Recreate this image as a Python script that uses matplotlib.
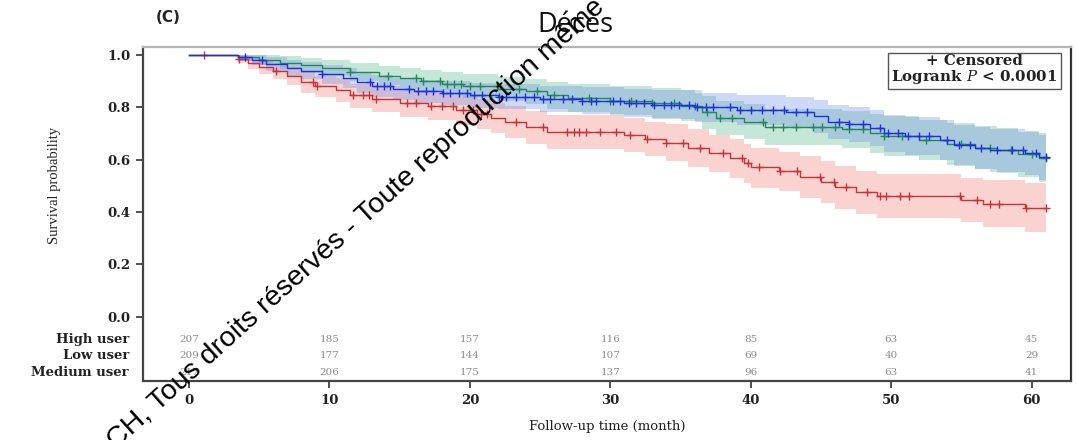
import numpy as np
import matplotlib
matplotlib.use("Agg")
import matplotlib.pyplot as plt

# ---------------- data ----------------
groups = ["High user", "Low user", "Medium user"]
follow_end = 61.0

high_t = [0, 3.5, 4.2, 5.0, 6.0, 7.0, 8.0, 9.0, 10.5, 11.5, 13.0, 15.0, 17.0, 19.0, 20.5, 21.5,
          22.5, 24.0, 25.5, 31.0, 32.5, 34.0, 35.5, 37.0, 38.5, 39.5, 40.0, 42.0, 43.5, 45.0,
          46.0, 47.5, 49.0, 55.0, 56.5, 59.5]
high_s = [1.0, 0.985, 0.97, 0.955, 0.94, 0.92, 0.895, 0.88, 0.865, 0.845, 0.83, 0.815, 0.805,
          0.79, 0.775, 0.76, 0.745, 0.725, 0.705, 0.695, 0.68, 0.665, 0.645, 0.625, 0.605, 0.585,
          0.57, 0.555, 0.535, 0.515, 0.495, 0.475, 0.46, 0.445, 0.43, 0.415]
high_up = [1.0, 1.0, 0.99, 0.98, 0.97, 0.955, 0.935, 0.92, 0.91, 0.89, 0.88, 0.865, 0.855, 0.845,
           0.83, 0.815, 0.805, 0.785, 0.77, 0.76, 0.745, 0.735, 0.715, 0.695, 0.68, 0.66, 0.645,
           0.63, 0.615, 0.595, 0.575, 0.555, 0.545, 0.53, 0.52, 0.51]
high_lo = [1.0, 0.968, 0.947, 0.928, 0.908, 0.885, 0.855, 0.838, 0.82, 0.797, 0.78, 0.763, 0.75,
           0.733, 0.717, 0.7, 0.683, 0.66, 0.64, 0.628, 0.612, 0.595, 0.573, 0.553, 0.53, 0.51,
           0.493, 0.478, 0.455, 0.435, 0.413, 0.393, 0.375, 0.36, 0.343, 0.325]
high_cens = [1.1, 3.6, 6.2, 8.8, 9.1, 11.7, 12.4, 12.8, 13.3, 15.5, 16.2, 17.2, 18.0, 18.8, 19.5,
             20.2, 20.8, 21.2, 23.3, 25.2, 26.9, 27.4, 27.8, 28.3, 29.3, 30.4, 31.4, 32.6, 34.0,
             35.2, 36.4, 38.0, 39.4, 39.8, 40.6, 42.1, 43.3, 44.9, 45.9, 46.8, 48.3, 49.2, 49.6,
             50.6, 51.3, 54.9, 56.1, 57.0, 57.7, 59.6, 61.0]

low_t = [0, 3.5, 5.0, 6.5, 8.0, 9.5, 11.5, 13.5, 15.0, 16.5, 18.0, 19.5, 22.0, 24.0, 25.5, 27.0,
         30.0, 33.0, 35.0, 36.5, 37.5, 39.5, 41.0, 46.5, 48.5, 49.5, 52.0, 54.0, 56.0, 57.5, 59.0,
         60.5]
low_s = [1.0, 0.99, 0.98, 0.97, 0.96, 0.95, 0.935, 0.92, 0.91, 0.90, 0.89, 0.88, 0.87, 0.86,
         0.845, 0.835, 0.825, 0.815, 0.805, 0.78, 0.76, 0.745, 0.725, 0.715, 0.70, 0.69, 0.675,
         0.66, 0.645, 0.635, 0.62, 0.605]
low_up = [1.0, 1.0, 1.0, 0.995, 0.988, 0.98, 0.968, 0.957, 0.949, 0.941, 0.933, 0.925, 0.917,
          0.909, 0.896, 0.888, 0.88, 0.872, 0.864, 0.842, 0.825, 0.812, 0.795, 0.787, 0.775,
          0.766, 0.753, 0.74, 0.727, 0.72, 0.707, 0.695]
low_lo = [1.0, 0.976, 0.96, 0.945, 0.932, 0.92, 0.902, 0.883, 0.871, 0.859, 0.847, 0.835, 0.823,
          0.811, 0.794, 0.782, 0.77, 0.758, 0.746, 0.718, 0.695, 0.678, 0.655, 0.643, 0.625,
          0.614, 0.597, 0.58, 0.563, 0.55, 0.533, 0.515]
low_cens = [11.5, 14.2, 16.2, 16.7, 17.9, 18.4, 18.9, 19.4, 20.0, 20.7, 21.9, 23.5, 24.8, 26.0,
            28.5, 30.0, 31.5, 33.0, 34.5, 36.0, 36.9, 37.8, 38.7, 40.9, 41.6, 42.3, 43.2, 44.4,
            45.1, 46.0, 47.0, 48.0, 49.5, 50.8, 52.5, 55.0, 57.0, 58.5, 60.0, 61.0]

med_t = [0, 3.5, 4.5, 5.5, 7.0, 8.0, 9.5, 11.0, 12.0, 13.0, 14.5, 16.0, 18.0, 20.0, 22.0, 25.0,
         28.0, 31.0, 33.0, 36.0, 39.0, 42.5, 44.5, 45.5, 47.0, 48.5, 49.5, 51.0, 53.5, 54.5, 56.0,
         57.0, 59.5, 60.5]
med_s = [1.0, 0.99, 0.98, 0.965, 0.95, 0.94, 0.925, 0.91, 0.895, 0.88, 0.87, 0.86, 0.855, 0.845,
         0.84, 0.83, 0.825, 0.815, 0.81, 0.80, 0.79, 0.78, 0.765, 0.745, 0.735, 0.72, 0.70, 0.69,
         0.675, 0.655, 0.645, 0.635, 0.625, 0.61]
med_up = [1.0, 1.0, 1.0, 0.99, 0.98, 0.972, 0.96, 0.948, 0.935, 0.922, 0.913, 0.905, 0.9, 0.892,
          0.888, 0.88, 0.876, 0.868, 0.864, 0.856, 0.848, 0.84, 0.827, 0.81, 0.802, 0.79, 0.772,
          0.763, 0.75, 0.733, 0.725, 0.716, 0.71, 0.70]
med_lo = [1.0, 0.976, 0.96, 0.94, 0.92, 0.908, 0.89, 0.872, 0.855, 0.838, 0.827, 0.815, 0.81,
          0.798, 0.792, 0.78, 0.774, 0.762, 0.756, 0.744, 0.732, 0.72, 0.703, 0.68, 0.668, 0.65,
          0.628, 0.617, 0.6, 0.577, 0.565, 0.554, 0.54, 0.52]
med_cens = [4.0, 5.2, 9.5, 12.9, 13.4, 13.9, 14.3, 15.7, 16.3, 16.9, 17.4, 18.1, 18.6, 19.2,
            19.8, 20.3, 20.9, 22.1, 22.6, 23.3, 23.9, 24.6, 25.2, 25.7, 26.6, 27.3, 28.0, 28.6,
            29.0, 30.2, 30.7, 31.3, 31.8, 32.4, 33.1, 33.8, 34.3, 34.9, 35.6, 36.2, 36.8, 37.3,
            38.5, 39.2, 40.0, 40.8, 41.6, 42.4, 43.2, 44.0, 46.3, 47.0, 48.0, 49.2, 49.8, 50.5,
            51.2, 52.0, 52.7, 54.0, 54.8, 55.6, 56.4, 57.5, 58.6, 59.4, 60.3, 61.0]

risk_times = [0, 10, 20, 30, 40, 50, 60]
risk_high = [207, 185, 157, 116, 85, 63, 45]
risk_low = [209, 177, 144, 107, 69, 40, 29]
risk_med = [217, 206, 175, 137, 96, 63, 41]

# ---------------- style ----------------
line_cols = {"High user": "#c8323a", "Low user": "#23885a", "Medium user": "#2030e0"}
band_cols = {"High user": ("#f07a72", 0.33), "Low user": ("#4fb886", 0.33),
             "Medium user": ("#6a8ee6", 0.33)}

plt.rcParams["mathtext.fontset"] = "dejavuserif"
fig = plt.figure(figsize=(10.76, 4.40), dpi=100)
W, H = 1076, 440
ax = fig.add_axes([143 / W, 1 - 381 / H, (1071 - 143) / W, (381 - 47) / H])

series = [
    ("High user", high_t, high_s, high_lo, high_up, high_cens),
    ("Low user", low_t, low_s, low_lo, low_up, low_cens),
    ("Medium user", med_t, med_s, med_lo, med_up, med_cens),
]

for name, t, s, lo, up, cens in series:
    tt = list(t) + [follow_end]
    col, a = band_cols[name]
    ax.fill_between(tt, list(lo) + [lo[-1]], list(up) + [up[-1]], step="post",
                    color=col, alpha=a, linewidth=0)

for name, t, s, lo, up, cens in series:
    tt = list(t) + [follow_end]
    ss = list(s) + [s[-1]]
    ax.step(tt, ss, where="post", color=line_cols[name], lw=1.0)
    idx = np.searchsorted(np.array(t), np.array(cens), side="right") - 1
    ax.plot(cens, np.array(s)[idx], linestyle="none", marker="+", ms=6, mew=1.0,
            color=line_cols[name])

ax.set_xlim(-3.27, 62.8)
ax.set_ylim(-0.246, 1.03)
ax.set_xticks(risk_times)
ax.set_yticks([0.0, 0.2, 0.4, 0.6, 0.8, 1.0])
ax.set_yticklabels(["0.0", "0.2", "0.4", "0.6", "0.8", "1.0"])

for lab in ax.get_xticklabels() + ax.get_yticklabels():
    lab.set_fontfamily("DejaVu Serif")
    lab.set_fontweight("bold")
    lab.set_fontsize(9.5)
    lab.set_color("#222222")
ax.tick_params(axis="both", direction="out", length=5, width=1.2, color="#333333", pad=4)

for side in ["left", "bottom"]:
    ax.spines[side].set_color("#444444")
    ax.spines[side].set_linewidth(1.6)
ax.spines["top"].set_color("#b5b5b5")
ax.spines["top"].set_linewidth(1.6)
ax.spines["right"].set_color("#333333")
ax.spines["right"].set_linewidth(1.6)

ax.set_xlabel("Follow-up time (month)", fontfamily="DejaVu Serif", fontsize=9.5,
              color="#222222", labelpad=10)
ax.set_ylabel("Survival probability", fontfamily="Liberation Serif", fontsize=10.5,
              color="#222222")
ax.yaxis.set_label_coords(-0.088, (0.5 + 0.246) / (1.03 + 0.246))

# risk table
rows = [("High user", risk_high, -0.086), ("Low user", risk_low, -0.147),
        ("Medium user", risk_med, -0.212)]
for name, vals, yv in rows:
    for x, v in zip(risk_times, vals):
        ax.text(x, yv, str(v), ha="center", va="center", fontfamily="DejaVu Serif",
                fontsize=7.5, color="#8a8a8a")
    ax.text(-0.015, yv, name, transform=ax.get_yaxis_transform(), ha="right", va="center",
            fontfamily="DejaVu Serif", fontweight="bold", fontsize=9.5, color="#222222")

# legend box
ax.text(0.9855, 0.978, "+ Censored\nLogrank $P$ < 0.0001", transform=ax.transAxes,
        ha="right", va="top", multialignment="center", fontfamily="DejaVu Serif",
        fontweight="bold", fontsize=10.8, color="#222222", linespacing=0.95,
        bbox=dict(boxstyle="square,pad=0.25", facecolor="white", edgecolor="#555555",
                  linewidth=1.0))

# titles
fig.text(575 / W, 1 - 25 / H, "Décès", ha="center", va="center", fontfamily="Open Sans",
         fontsize=19.5, color="#111111")
fig.text(168 / W, 1 - 18 / H, "(C)", ha="center", va="center", fontfamily="DejaVu Sans",
         fontweight="bold", fontsize=11, color="#222222")

# watermark
fig.text(116 / W, 1 - 450 / H, "CH, Tous droits réservés - Toute reproduction même",
         rotation=42, rotation_mode="anchor", ha="left", va="baseline",
         fontfamily="Liberation Sans", fontsize=20.5, color="#000000")

fig.savefig("out.png", dpi=100)
